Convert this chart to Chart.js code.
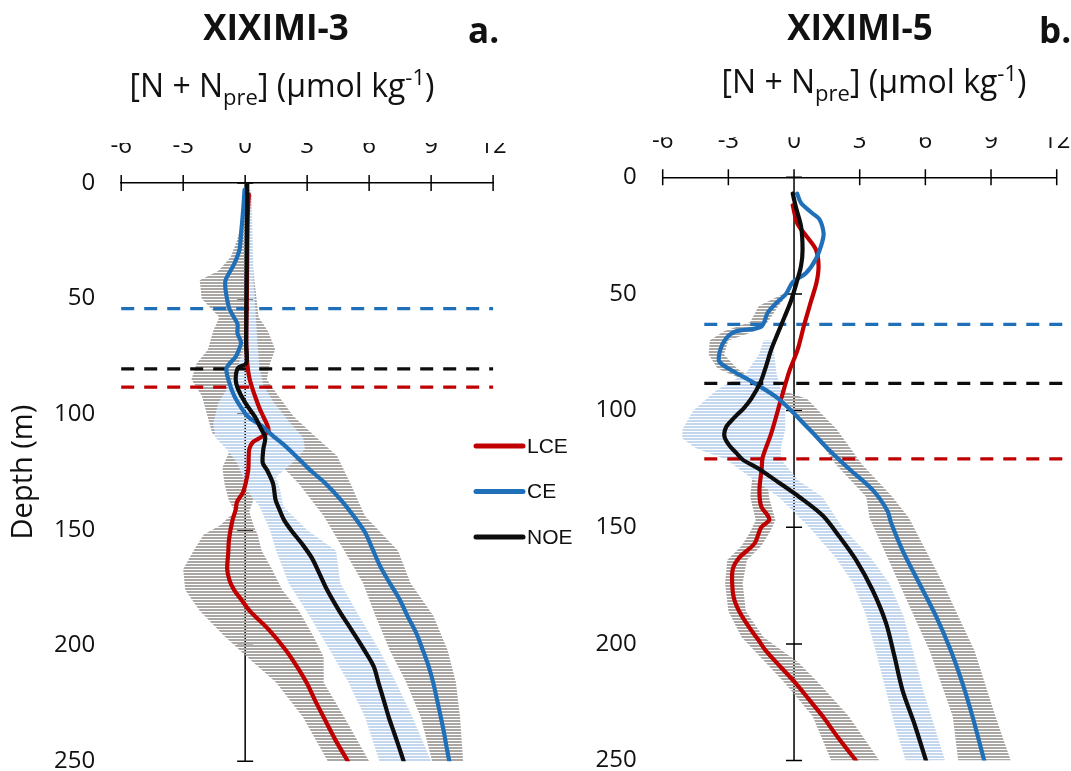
<!DOCTYPE html>
<html>
<head>
<meta charset="utf-8">
<script src="https://cdn.jsdelivr.net/npm/chart.js@4.4.1/dist/chart.umd.min.js"></script>
<style>
  body{margin:0;background:#fff;}
  #wrap{position:relative;width:1071px;height:771px;overflow:hidden;background:#fff;}
  canvas{position:absolute;top:0;}
</style>
</head>
<body>
<div id="wrap">
  <canvas id="c3" width="590" height="771" style="left:0"></canvas>
  <canvas id="c5" width="531" height="771" style="left:540px"></canvas>
</div>
<script>
// ------------------------------
// DATA
// ------------------------------

const xTicks = [-6, -3, 0, 3, 6, 9, 12]
const depthTicks = [0, 50, 100, 150, 200, 250]
const seriesNames = ["LCE", "CE", "NOE"]
const panelTitles = ["XIXIMI-3", "XIXIMI-5"]
const panelLetters = ["a.", "b."]

// XIXIMI-3 profiles (depth m, [N + Npre] umol/kg)
const x3LceDepth = [5, 15, 30, 50, 68, 78, 85, 92, 98, 101, 107, 110, 112, 115, 119, 124, 130, 134, 138, 141, 146, 154, 160, 167, 172, 176, 180, 185, 193, 202, 209, 216, 224, 231, 241, 250]
const x3LceValue = [0.18, 0.12, 0.1, 0.08, 0.05, 0.1, 0.22, 0.47, 0.72, 0.88, 1.13, 0.75, 0.38, 0.2, 0.17, 0.15, 0.02, -0.12, -0.4, -0.45, -0.62, -0.78, -0.82, -0.87, -0.75, -0.53, -0.2, 0.22, 1.13, 1.97, 2.5, 2.97, 3.4, 3.8, 4.38, 4.97]

const x3CeDepth = [3, 12, 22, 29, 35, 42, 46, 50, 54, 58, 61, 65, 69, 72, 75, 80, 86, 92, 97, 101, 105, 109, 113, 118, 124, 130, 137, 144, 151, 158, 166, 173, 180, 188, 195, 202, 209, 216, 224, 231, 238, 244, 250]
const x3CeValue = [-0.03, -0.1, -0.2, -0.28, -0.53, -0.95, -0.95, -0.88, -0.78, -0.55, -0.37, -0.37, -0.2, -0.3, -0.45, -0.9, -0.78, -0.53, -0.2, 0.13, 0.8, 1.3, 1.85, 2.45, 3.13, 3.9, 4.63, 5.25, 5.8, 6.15, 6.55, 7.0, 7.47, 7.9, 8.3, 8.6, 8.88, 9.1, 9.3, 9.47, 9.63, 9.75, 9.88]

const x3NoeDepth = [0, 10, 30, 50, 70, 78, 80, 85, 89, 95, 101, 106, 110, 115, 121, 124, 130, 137, 141, 146, 151, 156, 162, 169, 176, 185, 193, 201, 209, 216, 224, 231, 238, 244, 250]
const x3NoeValue = [0.1, 0.1, 0.08, 0.06, 0.05, 0.05, -0.35, -0.46, -0.35, 0.0, 0.47, 0.75, 0.97, 0.88, 0.85, 1.05, 1.35, 1.47, 1.65, 1.9, 2.3, 2.75, 3.22, 3.6, 3.97, 4.55, 5.13, 5.7, 6.22, 6.45, 6.72, 6.95, 7.22, 7.45, 7.67]

// XIXIMI-3 uncertainty bands
const x3LceBandDepth = [5, 15, 25, 32, 38, 42, 50, 58, 64, 72, 78, 85, 92, 100, 108, 116, 123, 130, 137, 142, 148, 152, 159, 167, 176, 185, 196, 205, 216, 231, 250]
const x3LceBandLow = [-0.05, -0.1, -0.4, -0.7, -1.3, -2.2, -2.1, -1.25, -1.55, -1.8, -2.35, -2.6, -2.1, -1.85, -1.6, -0.75, -1.1, -1.0, -0.8, -0.5, -1.2, -2.0, -2.5, -3.0, -2.9, -2.2, -1.0, 0.1, 1.5, 2.8, 4.0]
const x3LceBandHigh = [0.3, 0.3, 0.25, 0.3, 0.4, 0.45, 0.55, 0.65, 1.1, 1.45, 1.2, 1.05, 1.6, 1.8, 1.6, 1.0, 0.8, 0.5, 0.4, 0.2, 0.4, 0.6, 0.8, 1.3, 1.8, 2.6, 3.3, 3.8, 3.8, 4.8, 6.0]

const x3CeBandDepth = [92, 101, 110, 118, 130, 144, 159, 173, 187, 202, 216, 231, 250]
const x3CeBandLow = [-0.6, 0.0, 0.6, 1.3, 2.6, 3.8, 4.8, 5.7, 6.3, 7.0, 7.8, 8.5, 9.05]
const x3CeBandHigh = [1.6, 2.35, 3.45, 4.45, 5.1, 5.8, 7.4, 8.0, 9.1, 9.8, 10.2, 10.4, 10.55]

const x3NoeBandDepth = [3, 20, 40, 55, 70, 80, 88, 95, 104, 110, 115, 121, 127, 133, 140, 150, 159, 173, 187, 202, 216, 231, 250]
const x3NoeBandLow = [0.05, 0.0, 0.0, 0.0, 0.0, -0.4, -0.8, -1.3, -1.55, -1.45, -0.9, -0.4, -0.1, 0.1, 0.7, 1.2, 1.5, 2.1, 3.1, 4.1, 5.0, 5.8, 6.5]
const x3NoeBandHigh = [0.3, 0.35, 0.4, 0.5, 0.6, 0.7, 0.9, 1.4, 2.2, 2.8, 2.9, 2.3, 1.5, 1.7, 1.85, 3.0, 4.4, 4.6, 5.5, 6.5, 7.3, 8.1, 9.0]

// XIXIMI-3 layer depths (CE, NOE, LCE) and their x extent
const x3LayerDepth = [54.3, 80.4, 88.3]
const x3LayerSpan = [-6, 12]

// XIXIMI-5 profiles
const x5LceDepth = [12, 20, 25, 31, 38, 45, 53, 63, 74, 83, 95, 110, 120, 125, 134, 141, 145, 147, 150, 157, 163, 168, 175, 181, 187, 193, 198, 203, 210, 217, 224, 231, 240, 250]
const x5LceValue = [-0.06, 0.16, 0.55, 1.0, 1.12, 1.03, 0.78, 0.47, 0.16, -0.21, -0.59, -1.05, -1.43, -1.48, -1.58, -1.5, -1.2, -1.13, -1.5, -1.81, -2.5, -2.8, -2.82, -2.73, -2.45, -2.04, -1.65, -1.28, -0.6, 0.09, 0.7, 1.31, 2.0, 2.83]

const x5CeDepth = [7, 11, 15, 18, 24, 28, 35, 41, 45, 50, 54, 58, 64, 66, 69, 74, 79, 83, 88, 95, 108, 117, 125, 134, 143, 148, 160, 174, 188, 203, 217, 231, 250]
const x5CeValue = [0.14, 0.32, 0.78, 1.16, 1.35, 1.28, 1.0, 0.55, -0.06, -0.37, -0.82, -1.2, -1.5, -2.65, -3.1, -3.37, -3.41, -2.8, -1.85, -0.7, 0.7, 1.61, 2.52, 3.59, 4.27, 4.43, 4.96, 5.72, 6.48, 7.17, 7.7, 8.15, 8.69]

const x5NoeDepth = [7, 13, 21, 31, 38, 45, 53, 60, 67, 74, 81, 88, 95, 99, 103, 107, 111, 115, 118, 121, 125, 131, 137, 145, 154, 164, 177, 191, 205, 220, 234, 250]
const x5NoeValue = [-0.06, 0.09, 0.32, 0.39, 0.32, 0.12, -0.14, -0.44, -0.75, -1.05, -1.28, -1.54, -1.96, -2.3, -2.73, -3.1, -3.18, -2.95, -2.65, -2.35, -1.6, -0.67, 0.24, 1.31, 2.07, 2.83, 3.59, 4.2, 4.58, 4.96, 5.49, 6.03]

// XIXIMI-5 uncertainty bands
const x5LceBandDepth = [128, 137, 147, 152, 158, 164, 174, 186, 197, 208, 217, 231, 250]
const x5LceBandLow = [-1.9, -2.0, -1.75, -2.0, -2.4, -3.05, -3.15, -3.0, -2.4, -1.3, -0.4, 0.85, 1.7]
const x5LceBandHigh = [-1.2, -1.15, -0.85, -1.1, -1.5, -2.15, -2.35, -2.2, -1.4, 0.2, 1.15, 2.5, 3.9]

const x5CeBandDepth = [50, 55, 62, 66, 70, 76, 82, 88, 95, 108, 123, 137, 146, 174, 203, 231, 250]
const x5CeBandLow = [-0.5, -1.6, -2.0, -3.2, -3.85, -3.9, -3.5, -2.0, -0.5, 0.8, 1.9, 3.3, 3.45, 4.8, 6.2, 7.25, 7.5]
const x5CeBandHigh = [-0.3, -0.7, -1.2, -1.8, -3.0, -3.2, -2.6, -1.6, 0.6, 1.95, 3.1, 4.5, 5.25, 6.8, 8.25, 9.2, 9.9]

const x5NoeBandDepth = [70, 76, 84, 91, 100, 108, 112, 116, 121, 130, 137, 150, 163, 174, 188, 202, 220, 235, 250]
const x5NoeBandLow = [-1.4, -1.6, -2.2, -3.5, -4.6, -5.1, -5.1, -4.5, -3.1, -1.8, -0.7, 0.7, 1.9, 2.7, 3.3, 3.7, 4.2, 4.6, 5.1]
const x5NoeBandHigh = [-0.95, -0.9, -0.8, -0.6, -0.4, -0.4, -0.5, -0.6, -0.6, 0.2, 1.3, 2.2, 3.5, 4.35, 5.0, 5.4, 5.9, 6.4, 6.9]

const x5LayerDepth = [63.0, 88.3, 120.7]
const x5LayerSpan = [-4.1, 12.6]

// ------------------------------
// STYLE
// ------------------------------

const COLORS = { LCE: "#c00000", CE: "#1f70b9", NOE: "#0d0d0d" }
const LAYER_ORDER = ["CE", "NOE", "LCE"]
const DRAW_ORDER = ["NOE", "CE", "LCE"]   // first one ends up on top
const TEXT = "#111111"

function stripes(color){
    const c = document.createElement("canvas")
    c.width = 4
    c.height = 3
    const g = c.getContext("2d")
    g.fillStyle = color
    g.fillRect(0, 0, 4, 2)
    return g.createPattern(c, "repeat")
}

const GRAY_BAND = stripes("#aaa6a4")
const BLUE_BAND = stripes("#c3d7ef")

function toPoints(depth, value){
    return depth.map((d, i) => ({ x: value[i], y: d }))
}

function bandPolygon(depth, low, high){
    const left = depth.map((d, i) => ({ x: low[i], y: d }))
    const right = depth.map((d, i) => ({ x: high[i], y: d })).reverse()
    return left.concat(right)
}

// ------------------------------
// PLUGINS
// ------------------------------

// zero line with crossing ticks, plus crossing ticks on the top axis
const crossTicks = {
    id: "crossTicks",
    beforeDatasetsDraw(chart){
        const { ctx, scales: { x, y } } = chart
        const x0 = x.getPixelForValue(0)
        ctx.save()
        ctx.strokeStyle = "#000"
        ctx.lineWidth = 1.5
        ctx.beginPath()
        ctx.moveTo(x0, y.getPixelForValue(depthTicks[0]))
        ctx.lineTo(x0, y.getPixelForValue(depthTicks[depthTicks.length - 1]))
        for(const d of depthTicks){
            const py = y.getPixelForValue(d)
            ctx.moveTo(x0 - 8, py)
            ctx.lineTo(x0 + 8, py)
        }
        for(const v of xTicks){
            const px = x.getPixelForValue(v)
            ctx.moveTo(px, y.top - 8)
            ctx.lineTo(px, y.top + 8)
        }
        ctx.stroke()
        ctx.restore()
    }
}

// panel title, letter and unit label with sub/superscripts
const panelText = {
    id: "panelText",
    afterDraw(chart, args, o){
        const ctx = chart.ctx
        ctx.save()
        ctx.fillStyle = TEXT
        ctx.textBaseline = "alphabetic"

        ctx.font = "bold 35px 'Open Sans'"
        ctx.textAlign = "center"
        ctx.fillText(o.title, o.titleX, o.titleY)
        ctx.textAlign = "left"
        ctx.fillText(o.letter, o.letterX, o.letterY)

        const parts = [
            ["[N + N", 0], ["pre", 1], ["] (µmol kg", 0], ["-1", 2], [")", 0]
        ]
        const fontFor = k => k === 0 ? "32px 'Open Sans'" : "22px 'Open Sans'"
        let w = 0
        for(const [t, k] of parts){
            ctx.font = fontFor(k)
            w += ctx.measureText(t).width
        }
        let x = o.unitX - w / 2
        for(const [t, k] of parts){
            ctx.font = fontFor(k)
            const dy = k === 1 ? 8 : (k === 2 ? -12 : 0)
            ctx.fillText(t, x, o.unitY + dy)
            x += ctx.measureText(t).width
        }
        ctx.restore()
    }
}

const legendBox = {
    id: "legendBox",
    afterDraw(chart, args, o){
        if(!o.show) return
        const ctx = chart.ctx
        ctx.save()
        ctx.font = "21px 'Liberation Sans'"
        ctx.textBaseline = "middle"
        ctx.textAlign = "left"
        seriesNames.forEach((name, i) => {
            const y = o.y + i * o.gap
            ctx.strokeStyle = COLORS[name]
            ctx.lineWidth = 5
            ctx.lineCap = "round"
            ctx.beginPath()
            ctx.moveTo(o.x, y)
            ctx.lineTo(o.x + o.len, y)
            ctx.stroke()
            ctx.fillStyle = TEXT
            ctx.fillText(name, o.x + o.len + 4, y + 1)
        })
        ctx.restore()
    }
}

// ------------------------------
// BUILD A PANEL
// ------------------------------

function makePanel(id, p){

    const datasets = []

    for(const name of DRAW_ORDER){
        datasets.push({
            label: name,
            data: toPoints(p.lines[name][0], p.lines[name][1]),
            showLine: true,
            borderColor: COLORS[name],
            borderWidth: 4.2,
            tension: 0.3,
            borderCapStyle: "round",
            borderJoinStyle: "round",
            fill: false
        })
    }

    LAYER_ORDER.forEach((name, i) => {
        datasets.push({
            label: name + " layer",
            data: [{ x: p.layerSpan[0], y: p.layerDepth[i] }, { x: p.layerSpan[1], y: p.layerDepth[i] }],
            showLine: true,
            borderColor: COLORS[name],
            borderWidth: 3.3,
            borderDash: [13, 10],
            clip: false,
            fill: false
        })
    })

    for(const name of ["NOE", "CE", "LCE"]){
        const b = p.bands[name]
        datasets.push({
            label: name + " range",
            data: bandPolygon(b[0], b[1], b[2]),
            showLine: true,
            borderWidth: 0,
            borderColor: "rgba(0,0,0,0)",
            backgroundColor: name === "NOE" ? BLUE_BAND : GRAY_BAND,
            fill: "shape",
            tension: 0
        })
    }

    const tickFont = { family: "Open Sans", size: 24 }

    return new Chart(document.getElementById(id), {
        type: "scatter",
        data: { datasets },
        plugins: [crossTicks, panelText, legendBox],
        options: {
            responsive: false,
            animation: false,
            events: [],
            layout: { padding: p.padding, autoPadding: false },
            elements: { point: { radius: 0 } },
            plugins: {
                legend: { display: false },
                tooltip: { enabled: false },
                panelText: p.text,
                legendBox: p.legend
            },
            scales: {
                x: {
                    type: "linear",
                    position: "top",
                    min: -6,
                    max: 12,
                    afterFit: s => {
                        s.height = 40
                        s.paddingLeft = 0
                        s.paddingRight = 0
                    },
                    afterBuildTicks: s => { s.ticks = xTicks.map(v => ({ value: v })) },
                    grid: { display: false, drawTicks: false },
                    border: { display: true, color: "#000", width: 1.5 },
                    ticks: { padding: 22, font: tickFont, color: TEXT, maxRotation: 0 }
                },
                y: {
                    type: "linear",
                    reverse: true,
                    min: 0,
                    max: 250,
                    afterFit: s => {
                        s.width = p.yWidth
                        s.paddingTop = 0
                        s.paddingBottom = 0
                    },
                    afterBuildTicks: s => { s.ticks = depthTicks.map(v => ({ value: v })) },
                    grid: { display: false, drawTicks: false },
                    border: { display: false },
                    ticks: { padding: 26, font: tickFont, color: TEXT },
                    title: {
                        display: p.yTitle,
                        text: "Depth (m)",
                        color: TEXT,
                        font: { family: "Open Sans", size: 29 },
                        padding: { top: 6, bottom: 0 }
                    }
                }
            }
        }
    })
}

// ------------------------------
// INIT
// ------------------------------

makePanel("c3", {
    lines: {
        LCE: [x3LceDepth, x3LceValue],
        CE: [x3CeDepth, x3CeValue],
        NOE: [x3NoeDepth, x3NoeValue]
    },
    bands: {
        LCE: [x3LceBandDepth, x3LceBandLow, x3LceBandHigh],
        CE: [x3CeBandDepth, x3CeBandLow, x3CeBandHigh],
        NOE: [x3NoeBandDepth, x3NoeBandLow, x3NoeBandHigh]
    },
    layerDepth: x3LayerDepth,
    layerSpan: x3LayerSpan,
    padding: { top: 143, right: 96.9, bottom: 9.8, left: 0 },
    yWidth: 121.2,
    yTitle: true,
    text: {
        title: panelTitles[0], titleX: 276, titleY: 40,
        letter: panelLetters[0], letterX: 468, letterY: 43,
        unitX: 282, unitY: 97
    },
    legend: { show: true, x: 476, y: 446, gap: 45.5, len: 47 }
})

makePanel("c5", {
    lines: {
        LCE: [x5LceDepth, x5LceValue],
        CE: [x5CeDepth, x5CeValue],
        NOE: [x5NoeDepth, x5NoeValue]
    },
    bands: {
        LCE: [x5LceBandDepth, x5LceBandLow, x5LceBandHigh],
        CE: [x5CeBandDepth, x5CeBandLow, x5CeBandHigh],
        NOE: [x5NoeBandDepth, x5NoeBandLow, x5NoeBandHigh]
    },
    layerDepth: x5LayerDepth,
    layerSpan: x5LayerSpan,
    padding: { top: 137.3, right: 14.3, bottom: 10.4, left: 0 },
    yWidth: 122.7,
    yTitle: false,
    text: {
        title: panelTitles[1], titleX: 320, titleY: 40,
        letter: panelLetters[1], letterX: 499, letterY: 43,
        unitX: 334, unitY: 93
    },
    legend: { show: false }
})
</script>
</body>
</html>
